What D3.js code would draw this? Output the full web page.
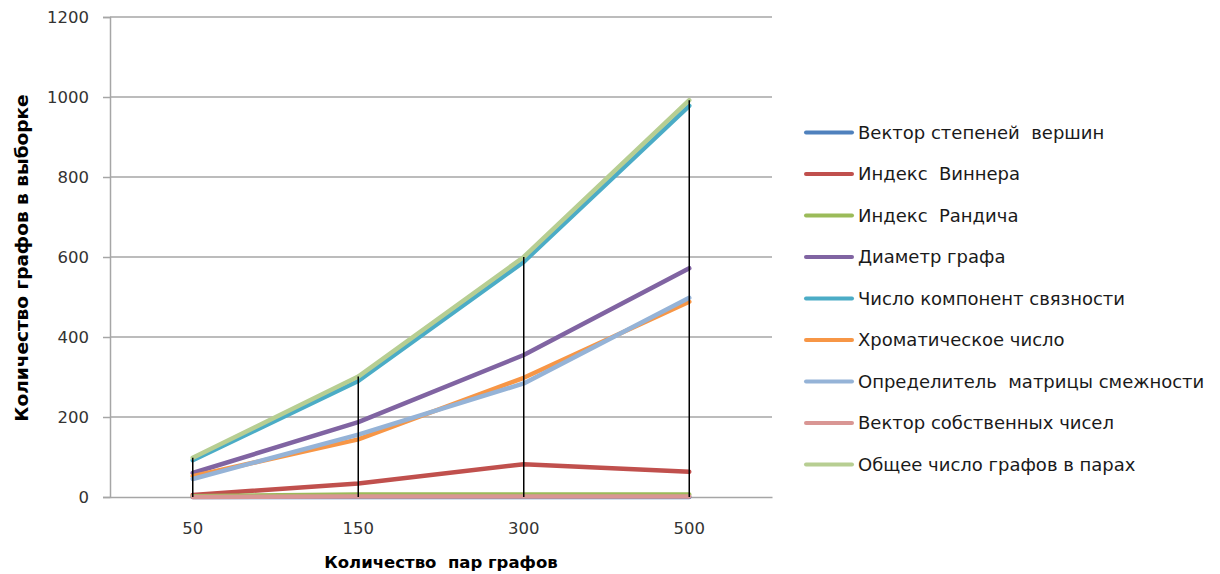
<!DOCTYPE html>
<html>
<head>
<meta charset="utf-8">
<script src="https://cdn.jsdelivr.net/npm/d3@7/dist/d3.min.js"></script>
<style>
  html, body { margin: 0; padding: 0; background: #fff; }
  svg { display: block; font-family: "DejaVu Sans", Verdana, sans-serif; }
  text { white-space: pre; }
</style>
</head>
<body>
<svg id="chart" width="1220" height="574"></svg>
<script>
const categories = ["50", "150", "300", "500"];
const seriesNames = [
  "Вектор степеней  вершин",
  "Индекс  Виннера",
  "Индекс  Рандича",
  "Диаметр графа",
  "Число компонент связности",
  "Хроматическое число",
  "Определитель  матрицы смежности",
  "Вектор собственных чисел",
  "Общее число графов в парах"
];
const vectorDegrees   = [0, 0, 0, 0];
const wienerIndex     = [5, 34, 82, 63];
const randicIndex     = [2, 6, 6, 6];
const graphDiameter   = [60, 187, 355, 572];
const componentsCount = [92, 290, 588, 978];
const chromaticNumber = [52, 144, 298, 488];
const adjDeterminant  = [45, 156, 284, 498];
const eigenVector     = [0, 1, 1, 1];
const totalGraphs     = [98, 301, 600, 992];
const yTicks = [0, 200, 400, 600, 800, 1000, 1200];
const colors = ["#4F81BD", "#C0504D", "#9BBB59", "#8064A2", "#4BACC6", "#F79646", "#95B3D7", "#D99694", "#B7CE92"];

const seriesValues = [vectorDegrees, wienerIndex, randicIndex, graphDiameter, componentsCount,
  chromaticNumber, adjDeterminant, eigenVector, totalGraphs];
const series = seriesNames.map((name, i) => ({ name, values: seriesValues[i], color: colors[i] }));

(function () {
const svg = d3.select("#chart");
const mLeft = 110, mRight = 772, mTop = 17, mBottom = 497;

const x = d3.scaleBand().domain(categories).range([mLeft, mRight]).padding(0);
const y = d3.scaleLinear().domain([0, 1200]).range([mBottom, mTop]);

// gridlines
svg.append("g").selectAll("line").data(yTicks.filter(d => d > 0)).join("line")
  .attr("x1", mLeft).attr("x2", mRight)
  .attr("y1", d => y(d)).attr("y2", d => y(d))
  .attr("stroke", "#A6A6A6").attr("stroke-width", 1.5);

// y axis
const yAxis = d3.axisLeft(y).tickValues(yTicks).tickSize(7).tickPadding(14).tickFormat(d3.format("d"));
const gy = svg.append("g").attr("transform", `translate(${mLeft},0)`).call(yAxis);
gy.select(".domain").attr("stroke", "#A6A6A6").attr("stroke-width", 1.5);
gy.selectAll(".tick line").attr("stroke", "#A6A6A6").attr("stroke-width", 1.5);
gy.selectAll("text").attr("font-size", 16.5).attr("fill", "#333").attr("font-family", "DejaVu Sans");

// x axis
const xAxis = d3.axisBottom(x).tickSize(0).tickPadding(25);
const gx = svg.append("g").attr("transform", `translate(0,${mBottom})`).call(xAxis);
gx.select(".domain").attr("stroke", "#A6A6A6").attr("stroke-width", 1.5);
gx.selectAll("text").attr("font-size", 16.5).attr("fill", "#333").attr("font-family", "DejaVu Sans");

// series lines
const line = d3.line()
  .x((d, i) => x(categories[i]) + x.bandwidth() / 2)
  .y(d => y(d));
svg.append("g").selectAll("path").data(series).join("path")
  .attr("d", s => line(s.values))
  .attr("fill", "none")
  .attr("stroke", s => s.color)
  .attr("stroke-width", 4.5)
  .attr("stroke-linejoin", "round")
  .attr("stroke-linecap", "round");

// high-low lines
svg.append("g").selectAll("line").data(categories).join("line")
  .attr("x1", c => x(c) + x.bandwidth() / 2)
  .attr("x2", c => x(c) + x.bandwidth() / 2)
  .attr("y1", (c, i) => y(d3.max(series, s => s.values[i])))
  .attr("y2", (c, i) => y(d3.min(series, s => s.values[i])))
  .attr("stroke", "#000").attr("stroke-width", 1.5);

// axis titles
svg.append("text")
  .attr("x", (mLeft + mRight) / 2).attr("y", 568)
  .attr("text-anchor", "middle")
  .attr("font-size", 16.5).attr("font-weight", "bold").attr("fill", "#000")
  .text("Количество  пар графов");
svg.append("text")
  .attr("transform", `translate(28,258) rotate(-90)`)
  .attr("text-anchor", "middle")
  .attr("font-size", 18.5).attr("font-weight", "bold").attr("fill", "#000")
  .text("Количество графов в выборке");

// legend
const legend = svg.append("g");
const ly = d3.scalePoint().domain(seriesNames).range([132.5, 464.5]);
const items = legend.selectAll("g").data(series).join("g")
  .attr("transform", s => `translate(806,${ly(s.name)})`);
items.append("line")
  .attr("x1", 0).attr("x2", 46).attr("y1", 0).attr("y2", 0)
  .attr("stroke", s => s.color).attr("stroke-width", 4).attr("stroke-linecap", "round");
items.append("text")
  .attr("x", 52).attr("y", 0).attr("dy", "0.36em")
  .attr("font-size", 18).attr("fill", "#1a1a1a")
  .text(s => s.name);
})();
</script>
</body>
</html>
